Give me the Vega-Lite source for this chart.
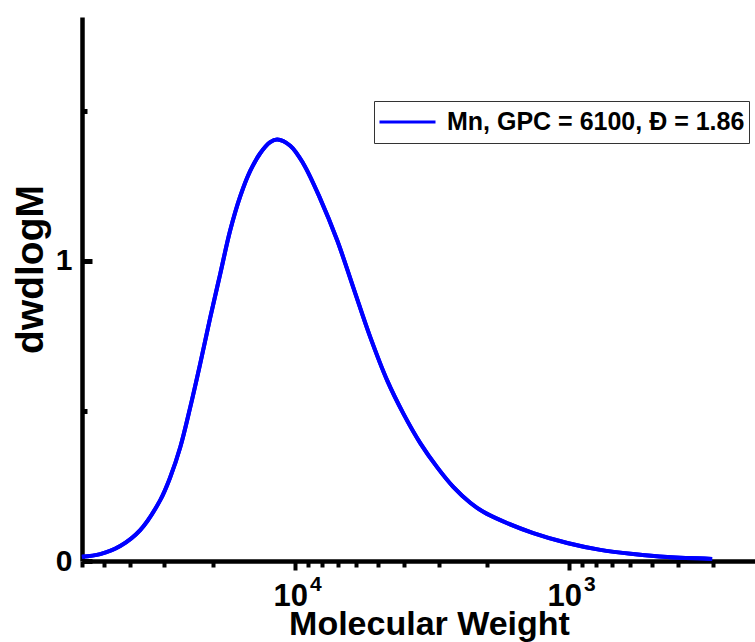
{
  "$schema": "https://vega.github.io/schema/vega-lite/v6.json",
  "width": 673,
  "height": 544,
  "autosize": {"type": "none"},
  "padding": {"left": 82, "top": 17, "right": 0, "bottom": 81},
  "background": "white",
  "config": {"view": {"stroke": null}, "font": "Liberation Sans"},
  "data": {
    "values": [
      {"M": 60060, "w": 0.014, "s": "Mn, GPC = 6100, Đ = 1.86"},
      {"M": 51480, "w": 0.023, "s": "Mn, GPC = 6100, Đ = 1.86"},
      {"M": 43520, "w": 0.050, "s": "Mn, GPC = 6100, Đ = 1.86"},
      {"M": 36790, "w": 0.103, "s": "Mn, GPC = 6100, Đ = 1.86"},
      {"M": 31090, "w": 0.203, "s": "Mn, GPC = 6100, Đ = 1.86"},
      {"M": 28590, "w": 0.279, "s": "Mn, GPC = 6100, Đ = 1.86"},
      {"M": 26280, "w": 0.379, "s": "Mn, GPC = 6100, Đ = 1.86"},
      {"M": 24170, "w": 0.512, "s": "Mn, GPC = 6100, Đ = 1.86"},
      {"M": 22220, "w": 0.658, "s": "Mn, GPC = 6100, Đ = 1.86"},
      {"M": 20430, "w": 0.811, "s": "Mn, GPC = 6100, Đ = 1.86"},
      {"M": 18780, "w": 0.957, "s": "Mn, GPC = 6100, Đ = 1.86"},
      {"M": 17270, "w": 1.102, "s": "Mn, GPC = 6100, Đ = 1.86"},
      {"M": 15880, "w": 1.215, "s": "Mn, GPC = 6100, Đ = 1.86"},
      {"M": 14600, "w": 1.300, "s": "Mn, GPC = 6100, Đ = 1.86"},
      {"M": 13420, "w": 1.359, "s": "Mn, GPC = 6100, Đ = 1.86"},
      {"M": 12340, "w": 1.396, "s": "Mn, GPC = 6100, Đ = 1.86"},
      {"M": 11630, "w": 1.405, "s": "Mn, GPC = 6100, Đ = 1.86"},
      {"M": 10430, "w": 1.384, "s": "Mn, GPC = 6100, Đ = 1.86"},
      {"M": 9350, "w": 1.325, "s": "Mn, GPC = 6100, Đ = 1.86"},
      {"M": 8102, "w": 1.207, "s": "Mn, GPC = 6100, Đ = 1.86"},
      {"M": 7025, "w": 1.068, "s": "Mn, GPC = 6100, Đ = 1.86"},
      {"M": 6142, "w": 0.912, "s": "Mn, GPC = 6100, Đ = 1.86"},
      {"M": 5324, "w": 0.746, "s": "Mn, GPC = 6100, Đ = 1.86"},
      {"M": 4615, "w": 0.601, "s": "Mn, GPC = 6100, Đ = 1.86"},
      {"M": 4035, "w": 0.492, "s": "Mn, GPC = 6100, Đ = 1.86"},
      {"M": 3498, "w": 0.393, "s": "Mn, GPC = 6100, Đ = 1.86"},
      {"M": 3032, "w": 0.312, "s": "Mn, GPC = 6100, Đ = 1.86"},
      {"M": 2651, "w": 0.247, "s": "Mn, GPC = 6100, Đ = 1.86"},
      {"M": 2298, "w": 0.194, "s": "Mn, GPC = 6100, Đ = 1.86"},
      {"M": 2060, "w": 0.164, "s": "Mn, GPC = 6100, Đ = 1.86"},
      {"M": 1785, "w": 0.136, "s": "Mn, GPC = 6100, Đ = 1.86"},
      {"M": 1353, "w": 0.093, "s": "Mn, GPC = 6100, Đ = 1.86"},
      {"M": 1017, "w": 0.060, "s": "Mn, GPC = 6100, Đ = 1.86"},
      {"M": 770, "w": 0.037, "s": "Mn, GPC = 6100, Đ = 1.86"},
      {"M": 584, "w": 0.023, "s": "Mn, GPC = 6100, Đ = 1.86"},
      {"M": 439, "w": 0.013, "s": "Mn, GPC = 6100, Đ = 1.86"},
      {"M": 301, "w": 0.007, "s": "Mn, GPC = 6100, Đ = 1.86"}
    ]
  },
  "layer": [
    {
      "mark": {"type": "line", "strokeWidth": 4, "interpolate": "catmull-rom", "clip": false},
      "encoding": {
        "x": {
          "field": "M",
          "type": "quantitative",
          "scale": {"type": "log", "domain": [210, 60000], "reverse": true, "nice": false},
          "axis": {
            "orient": "bottom",
            "values": [60000, 50000, 40000, 30000, 20000, 10000, 9000, 8000, 7000, 6000, 5000, 4000, 3000, 2000, 1000, 900, 800, 700, 600, 500, 400, 300],
            "labelExpr": "datum.value == 10000 || datum.value == 1000 ? '10' : ''",
            "labelOverlap": false,
            "labelFlush": false,
            "labelFont": "Liberation Sans",
            "labelFontWeight": "bold",
            "labelFontSize": 31,
            "labelColor": "black",
            "labelPadding": 11,
            "labelOffset": -5,
            "tickSize": {"condition": {"test": "datum.value == 10000 || datum.value == 1000", "value": 9}, "value": 6},
            "tickWidth": 4,
            "tickColor": "black",
            "domainColor": "black",
            "domainWidth": 4.5,
            "grid": false,
            "title": "Molecular Weight",
            "titleFont": "Liberation Sans",
            "titleFontWeight": "bold",
            "titleFontSize": 34,
            "titleColor": "black",
            "titleBaseline": "alphabetic",
            "titleAlign": "center",
            "titleX": 347,
            "titleY": 73
          }
        },
        "y": {
          "field": "w",
          "type": "quantitative",
          "scale": {"domain": [0, 1.813], "nice": false, "zero": false},
          "axis": {
            "values": [0, 0.5, 1, 1.5],
            "labelExpr": "datum.value == 0 ? '0' : (datum.value == 1 ? '1' : '')",
            "labelOverlap": false,
            "labelFlush": false,
            "labelFont": "Liberation Sans",
            "labelFontWeight": "bold",
            "labelFontSize": 30,
            "labelColor": "black",
            "labelPadding": 20,
            "tickSize": {"condition": {"test": "datum.value == 1 || datum.value == 0", "value": -10}, "value": -5},
            "tickWidth": 5,
            "tickColor": "black",
            "domainColor": "black",
            "domainWidth": 4.5,
            "grid": false,
            "title": "dwdlogM",
            "titleFont": "Liberation Sans",
            "titleFontWeight": "bold",
            "titleFontSize": 39,
            "titleColor": "black",
            "titleAngle": -90,
            "titleBaseline": "alphabetic",
            "titleAlign": "center",
            "titleX": -40,
            "titleY": 252
          }
        },
        "color": {
          "field": "s",
          "type": "nominal",
          "scale": {"range": ["#0000ff"]},
          "legend": {
            "title": null,
            "orient": "none",
            "legendX": 292,
            "legendY": 84,
            "symbolType": "stroke",
            "symbolSize": 3136,
            "symbolStrokeWidth": 3,
            "clipHeight": 34,
            "labelFont": "Liberation Sans",
            "labelFontWeight": "bold",
            "labelFontSize": 25,
            "labelColor": "black",
            "labelOffset": 10,
            "labelLimit": 0,
            "padding": 4,
            "strokeColor": "#333333",
            "fillColor": "white"
          }
        }
      }
    },
    {
      "mark": {"type": "line", "strokeWidth": 4, "interpolate": "catmull-rom", "clip": false},
      "encoding": {
        "x": {
          "field": "M",
          "type": "quantitative",
          "scale": {"type": "log", "domain": [210, 60000], "reverse": true, "nice": false},
          "axis": {
            "orient": "bottom",
            "values": [10000, 1000],
            "labelExpr": "datum.value == 10000 ? '4' : '3'",
            "labelOverlap": false,
            "labelFlush": false,
            "labelFont": "Liberation Sans",
            "labelFontWeight": "bold",
            "labelFontSize": 21,
            "labelColor": "black",
            "labelPadding": 12,
            "labelOffset": 20,
            "ticks": false,
            "tickSize": 0,
            "domain": false,
            "grid": false,
            "title": null
          }
        },
        "y": {"field": "w", "type": "quantitative"},
        "color": {"field": "s", "type": "nominal"}
      }
    }
  ],
  "resolve": {"axis": {"x": "independent"}}
}
